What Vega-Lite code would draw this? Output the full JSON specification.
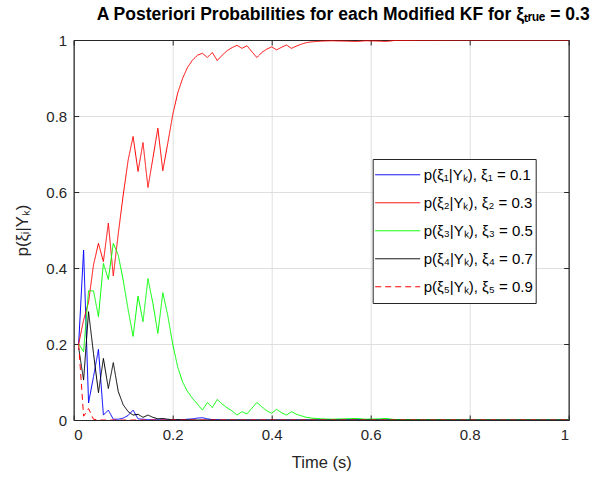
{
  "$schema": "https://vega.github.io/schema/vega-lite/v6.json",
  "width": 495,
  "height": 380,
  "autosize": "none",
  "padding": {"left": 73.7, "top": 40, "right": 37.3, "bottom": 61},
  "title": {"text": "A Posteriori Probabilities for each Modified KF for ξₜᵣᵤₑ = 0.3", "font": "Liberation Sans", "fontSize": 17.5, "fontWeight": "bold", "color": "#000000", "anchor": "middle", "offset": 10, "dx": 22},
  "config": {
    "font": "Liberation Sans",
    "view": {"stroke": "#262626", "strokeWidth": 1},
    "axis": {
      "labelFont": "Liberation Sans", "labelFontSize": 15, "labelColor": "#262626",
      "titleFont": "Liberation Sans", "titleFontSize": 16.5, "titleFontWeight": "normal", "titleColor": "#262626",
      "domainColor": "#262626", "tickColor": "#262626", "gridColor": "#dfdfdf", "gridWidth": 1,
      "tickSize": -5, "labelPadding": 12
    },
    "legend": {
      "orient": "none", "legendX": 299, "legendY": 119,
      "fillColor": "#ffffff", "strokeColor": "#262626", "padding": 2,
      "symbolType": "stroke", "symbolSize": 2025, "symbolStrokeWidth": 1,
      "clipHeight": 27.5, "rowPadding": 0, "labelOffset": 3,
      "labelFont": "Liberation Sans", "labelFontSize": 15, "labelColor": "#000000", "labelLimit": 300
    }
  },
  "data": {"values": [
    {"t":0.01,"p":0.2,"s":"1"},{"t":0.02,"p":0.447,"s":"1"},{"t":0.03,"p":0.045,"s":"1"},{"t":0.04,"p":0.114,"s":"1"},{"t":0.05,"p":0.186,"s":"1"},{"t":0.06,"p":0.013,"s":"1"},{"t":0.07,"p":0.026,"s":"1"},{"t":0.08,"p":0.002,"s":"1"},{"t":0.09,"p":0.002,"s":"1"},{"t":0.10,"p":0.005,"s":"1"},{"t":0.11,"p":0.012,"s":"1"},{"t":0.12,"p":0.026,"s":"1"},{"t":0.13,"p":0.003,"s":"1"},{"t":0.14,"p":0.002,"s":"1"},{"t":0.15,"p":0.001,"s":"1"},{"t":0.16,"p":0.001,"s":"1"},{"t":0.17,"p":0.0005,"s":"1"},{"t":0.18,"p":0.0005,"s":"1"},{"t":0.20,"p":0.0005,"s":"1"},{"t":0.22,"p":0.001,"s":"1"},{"t":0.23,"p":0.002,"s":"1"},{"t":0.24,"p":0.003,"s":"1"},{"t":0.25,"p":0.005,"s":"1"},{"t":0.26,"p":0.006,"s":"1"},{"t":0.27,"p":0.003,"s":"1"},{"t":0.28,"p":0.001,"s":"1"},{"t":0.30,"p":0,"s":"1"},{"t":0.40,"p":0,"s":"1"},{"t":0.50,"p":0,"s":"1"},{"t":0.60,"p":0.0005,"s":"1"},{"t":0.62,"p":0,"s":"1"},{"t":1.0,"p":0,"s":"1"},
    {"t":0.01,"p":0.2,"s":"2"},{"t":0.02,"p":0.263,"s":"2"},{"t":0.03,"p":0.31,"s":"2"},{"t":0.04,"p":0.408,"s":"2"},{"t":0.05,"p":0.465,"s":"2"},{"t":0.06,"p":0.417,"s":"2"},{"t":0.07,"p":0.518,"s":"2"},{"t":0.08,"p":0.379,"s":"2"},{"t":0.09,"p":0.49,"s":"2"},{"t":0.10,"p":0.592,"s":"2"},{"t":0.11,"p":0.684,"s":"2"},{"t":0.12,"p":0.746,"s":"2"},{"t":0.13,"p":0.654,"s":"2"},{"t":0.14,"p":0.73,"s":"2"},{"t":0.15,"p":0.612,"s":"2"},{"t":0.16,"p":0.689,"s":"2"},{"t":0.17,"p":0.768,"s":"2"},{"t":0.18,"p":0.656,"s":"2"},{"t":0.19,"p":0.728,"s":"2"},{"t":0.20,"p":0.803,"s":"2"},{"t":0.21,"p":0.86,"s":"2"},{"t":0.22,"p":0.899,"s":"2"},{"t":0.23,"p":0.928,"s":"2"},{"t":0.24,"p":0.947,"s":"2"},{"t":0.25,"p":0.96,"s":"2"},{"t":0.26,"p":0.965,"s":"2"},{"t":0.27,"p":0.954,"s":"2"},{"t":0.28,"p":0.967,"s":"2"},{"t":0.29,"p":0.946,"s":"2"},{"t":0.30,"p":0.96,"s":"2"},{"t":0.31,"p":0.972,"s":"2"},{"t":0.32,"p":0.98,"s":"2"},{"t":0.33,"p":0.986,"s":"2"},{"t":0.34,"p":0.978,"s":"2"},{"t":0.35,"p":0.985,"s":"2"},{"t":0.36,"p":0.969,"s":"2"},{"t":0.37,"p":0.954,"s":"2"},{"t":0.38,"p":0.967,"s":"2"},{"t":0.39,"p":0.976,"s":"2"},{"t":0.40,"p":0.982,"s":"2"},{"t":0.41,"p":0.974,"s":"2"},{"t":0.42,"p":0.981,"s":"2"},{"t":0.43,"p":0.987,"s":"2"},{"t":0.44,"p":0.978,"s":"2"},{"t":0.45,"p":0.984,"s":"2"},{"t":0.46,"p":0.989,"s":"2"},{"t":0.47,"p":0.993,"s":"2"},{"t":0.48,"p":0.995,"s":"2"},{"t":0.49,"p":0.996,"s":"2"},{"t":0.50,"p":0.997,"s":"2"},{"t":0.52,"p":0.998,"s":"2"},{"t":0.55,"p":0.997,"s":"2"},{"t":0.57,"p":0.996,"s":"2"},{"t":0.59,"p":0.998,"s":"2"},{"t":0.62,"p":0.997,"s":"2"},{"t":0.63,"p":0.996,"s":"2"},{"t":0.65,"p":0.999,"s":"2"},{"t":0.70,"p":0.9995,"s":"2"},{"t":0.80,"p":1.0,"s":"2"},{"t":0.90,"p":1.0,"s":"2"},{"t":1.0,"p":1.0,"s":"2"},
    {"t":0.01,"p":0.2,"s":"3"},{"t":0.02,"p":0.18,"s":"3"},{"t":0.03,"p":0.34,"s":"3"},{"t":0.04,"p":0.34,"s":"3"},{"t":0.05,"p":0.272,"s":"3"},{"t":0.06,"p":0.412,"s":"3"},{"t":0.07,"p":0.37,"s":"3"},{"t":0.08,"p":0.465,"s":"3"},{"t":0.09,"p":0.434,"s":"3"},{"t":0.10,"p":0.368,"s":"3"},{"t":0.11,"p":0.29,"s":"3"},{"t":0.12,"p":0.22,"s":"3"},{"t":0.13,"p":0.326,"s":"3"},{"t":0.14,"p":0.259,"s":"3"},{"t":0.15,"p":0.372,"s":"3"},{"t":0.16,"p":0.307,"s":"3"},{"t":0.17,"p":0.228,"s":"3"},{"t":0.18,"p":0.335,"s":"3"},{"t":0.19,"p":0.275,"s":"3"},{"t":0.20,"p":0.2,"s":"3"},{"t":0.21,"p":0.14,"s":"3"},{"t":0.22,"p":0.1,"s":"3"},{"t":0.23,"p":0.075,"s":"3"},{"t":0.24,"p":0.057,"s":"3"},{"t":0.25,"p":0.042,"s":"3"},{"t":0.26,"p":0.026,"s":"3"},{"t":0.27,"p":0.046,"s":"3"},{"t":0.28,"p":0.033,"s":"3"},{"t":0.29,"p":0.054,"s":"3"},{"t":0.30,"p":0.042,"s":"3"},{"t":0.31,"p":0.032,"s":"3"},{"t":0.32,"p":0.024,"s":"3"},{"t":0.33,"p":0.013,"s":"3"},{"t":0.34,"p":0.022,"s":"3"},{"t":0.35,"p":0.016,"s":"3"},{"t":0.36,"p":0.031,"s":"3"},{"t":0.37,"p":0.046,"s":"3"},{"t":0.38,"p":0.035,"s":"3"},{"t":0.39,"p":0.024,"s":"3"},{"t":0.40,"p":0.018,"s":"3"},{"t":0.41,"p":0.028,"s":"3"},{"t":0.42,"p":0.019,"s":"3"},{"t":0.43,"p":0.013,"s":"3"},{"t":0.44,"p":0.022,"s":"3"},{"t":0.45,"p":0.015,"s":"3"},{"t":0.46,"p":0.011,"s":"3"},{"t":0.47,"p":0.007,"s":"3"},{"t":0.48,"p":0.005,"s":"3"},{"t":0.49,"p":0.004,"s":"3"},{"t":0.50,"p":0.003,"s":"3"},{"t":0.52,"p":0.002,"s":"3"},{"t":0.55,"p":0.003,"s":"3"},{"t":0.57,"p":0.004,"s":"3"},{"t":0.59,"p":0.002,"s":"3"},{"t":0.62,"p":0.003,"s":"3"},{"t":0.63,"p":0.004,"s":"3"},{"t":0.65,"p":0.001,"s":"3"},{"t":0.70,"p":0.0005,"s":"3"},{"t":0.80,"p":0,"s":"3"},{"t":1.0,"p":0,"s":"3"},
    {"t":0.01,"p":0.19,"s":"4"},{"t":0.02,"p":0.105,"s":"4"},{"t":0.03,"p":0.285,"s":"4"},{"t":0.04,"p":0.175,"s":"4"},{"t":0.05,"p":0.072,"s":"4"},{"t":0.06,"p":0.162,"s":"4"},{"t":0.07,"p":0.083,"s":"4"},{"t":0.08,"p":0.151,"s":"4"},{"t":0.09,"p":0.075,"s":"4"},{"t":0.10,"p":0.04,"s":"4"},{"t":0.11,"p":0.022,"s":"4"},{"t":0.12,"p":0.013,"s":"4"},{"t":0.13,"p":0.015,"s":"4"},{"t":0.14,"p":0.007,"s":"4"},{"t":0.15,"p":0.013,"s":"4"},{"t":0.16,"p":0.007,"s":"4"},{"t":0.17,"p":0.003,"s":"4"},{"t":0.18,"p":0.004,"s":"4"},{"t":0.19,"p":0.002,"s":"4"},{"t":0.20,"p":0.001,"s":"4"},{"t":0.22,"p":0.0005,"s":"4"},{"t":0.25,"p":0,"s":"4"},{"t":1.0,"p":0,"s":"4"},
    {"t":0.01,"p":0.2,"s":"5"},{"t":0.02,"p":0.01,"s":"5"},{"t":0.03,"p":0.03,"s":"5"},{"t":0.04,"p":0.002,"s":"5"},{"t":0.05,"p":0,"s":"5"},{"t":1.0,"p":0,"s":"5"}
  ]},
  "layer": [
    {
      "mark": {"type": "line", "strokeWidth": 1, "clip": true},
      "encoding": {
        "x": {"field": "t", "type": "quantitative", "scale": {"domain": [0, 1], "nice": false},
              "axis": {"values": [0, 0.2, 0.4, 0.6, 0.8, 1], "format": ".1~f", "title": "Time (s)", "titlePadding": 12}},
        "y": {"field": "p", "type": "quantitative", "scale": {"domain": [0, 1], "nice": false},
              "axis": {"values": [0, 0.2, 0.4, 0.6, 0.8, 1], "format": ".1~f", "title": "p(ξᵢ|Yₖ)", "titlePadding": 15}},
        "color": {"field": "s", "type": "nominal",
                  "scale": {"domain": ["1", "2", "3", "4", "5"], "range": ["#0000ff", "#ff0000", "#00ff00", "#000000", "#ff0000"]},
                  "legend": {"title": null, "labelExpr": "datum.label == '1' ? 'p(ξ₁|Yₖ), ξ₁ = 0.1' : datum.label == '2' ? 'p(ξ₂|Yₖ), ξ₂ = 0.3' : datum.label == '3' ? 'p(ξ₃|Yₖ), ξ₃ = 0.5' : datum.label == '4' ? 'p(ξ₄|Yₖ), ξ₄ = 0.7' : 'p(ξ₅|Yₖ), ξ₅ = 0.9'"}},
        "strokeDash": {"field": "s", "type": "nominal",
                  "scale": {"domain": ["1", "2", "3", "4", "5"], "range": [[1, 0], [1, 0], [1, 0], [1, 0], [6, 4]]},
                  "legend": {"title": null, "labelExpr": "datum.label == '1' ? 'p(ξ₁|Yₖ), ξ₁ = 0.1' : datum.label == '2' ? 'p(ξ₂|Yₖ), ξ₂ = 0.3' : datum.label == '3' ? 'p(ξ₃|Yₖ), ξ₃ = 0.5' : datum.label == '4' ? 'p(ξ₄|Yₖ), ξ₄ = 0.7' : 'p(ξ₅|Yₖ), ξ₅ = 0.9'"}}
      }
    },
    {
      "mark": {"type": "line", "opacity": 0},
      "encoding": {
        "x": {"field": "t", "type": "quantitative", "scale": {"domain": [0, 1], "nice": false},
              "axis": {"orient": "top", "values": [0, 0.2, 0.4, 0.6, 0.8, 1], "labels": false, "title": null, "grid": false}},
        "y": {"field": "p", "type": "quantitative", "scale": {"domain": [0, 1], "nice": false},
              "axis": {"orient": "right", "values": [0, 0.2, 0.4, 0.6, 0.8, 1], "labels": false, "title": null, "grid": false}}
      }
    }
  ],
  "resolve": {"axis": {"x": "independent", "y": "independent"}}
}
